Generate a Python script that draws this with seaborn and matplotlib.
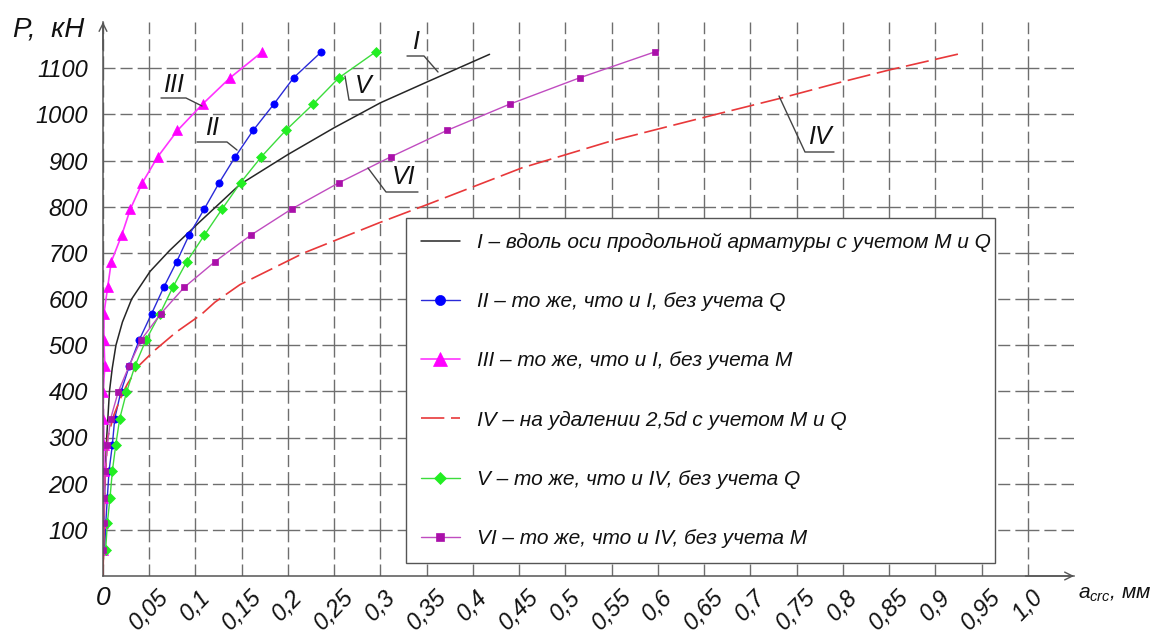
import matplotlib
matplotlib.use("Agg")
import matplotlib.pyplot as plt
import seaborn as sns
import pandas as pd
from matplotlib.lines import Line2D

# ---------------- data ----------------
loads = [57, 114, 170, 227, 284, 341, 398, 454, 511, 568,
         625, 681, 738, 795, 852, 908, 965, 1022, 1079, 1135]

crack_II = [0.0018, 0.003, 0.0047, 0.0065, 0.0101, 0.0127, 0.0192, 0.0283, 0.0391, 0.0525,
            0.0656, 0.0797, 0.093, 0.1095, 0.1257, 0.143, 0.1623, 0.1847, 0.206, 0.236]
crack_III = [0.0, 0.0005, 0.0005, 0.001, 0.001, 0.0005, 0.0, 0.002, 0.001, 0.001,
             0.005, 0.009, 0.0202, 0.0296, 0.0426, 0.0592, 0.0805, 0.1076, 0.1373, 0.172]
crack_V = [0.0029, 0.0047, 0.0076, 0.0101, 0.0138, 0.0181, 0.0254, 0.0344, 0.0464, 0.0616,
           0.0754, 0.0906, 0.1095, 0.1288, 0.1488, 0.1712, 0.1975, 0.2272, 0.255, 0.2947]
crack_VI = [0.0, 0.0007, 0.0015, 0.0025, 0.0047, 0.0083, 0.0163, 0.028, 0.041, 0.0624,
            0.0877, 0.1211, 0.1596, 0.204, 0.2553, 0.3113, 0.3718, 0.4397, 0.5153, 0.5964]

crack_I = [0.0, 0.0008, 0.002, 0.004, 0.007, 0.010, 0.014, 0.021, 0.031, 0.051, 0.072,
           0.1056, 0.148, 0.2, 0.25, 0.3, 0.3525, 0.418]
load_I = [0, 100, 200, 300, 400, 450, 500, 550, 600, 660, 705,
          769, 848, 913, 971, 1025, 1072, 1130]

crack_IV = [0.0, 0.001, 0.002, 0.005, 0.012, 0.021, 0.0264, 0.039, 0.0554, 0.079, 0.106,
            0.121, 0.148, 0.2175, 0.2985, 0.3525, 0.453, 0.549, 0.6, 0.661, 0.733,
            0.7985, 0.85, 0.928]
load_IV = [0, 100, 200, 300, 350, 395, 416, 456, 488, 528, 566,
           593, 631, 700, 765, 806, 884, 942, 968, 999, 1035,
           1070, 1096, 1132]

x_ticks = [0, 0.05, 0.1, 0.15, 0.2, 0.25, 0.3, 0.35, 0.4, 0.45, 0.5,
           0.55, 0.6, 0.65, 0.7, 0.75, 0.8, 0.85, 0.9, 0.95, 1.0]
x_tick_labels = ["0", "0,05", "0,1", "0,15", "0,2", "0,25", "0,3", "0,35", "0,4", "0,45", "0,5",
                 "0,55", "0,6", "0,65", "0,7", "0,75", "0,8", "0,85", "0,9", "0,95", "1,0"]
y_ticks = [100, 200, 300, 400, 500, 600, 700, 800, 900, 1000, 1100]
y_tick_labels = ["100", "200", "300", "400", "500", "600", "700", "800", "900", "1000", "1100"]

legend_labels = [
    "I – вдоль оси продольной арматуры с учетом M и Q",
    "II – то же, что и I, без учета Q",
    "III – то же, что и I, без учета M",
    "IV – на удалении 2,5d с учетом M и Q",
    "V – то же, что и IV, без учета Q",
    "VI – то же, что и IV, без учета M",
]
curve_names = ["I", "II", "III", "IV", "V", "VI"]

# ---------------- style ----------------
sns.set_style("white")
plt.rcParams["font.family"] = ["Liberation Sans", "DejaVu Sans"]
plt.rcParams["font.style"] = "italic"
plt.rcParams["mathtext.fontset"] = "custom"
plt.rcParams["mathtext.it"] = "Liberation Sans:italic"
plt.rcParams["mathtext.rm"] = "Liberation Sans:italic"

W, H = 1157, 637
fig = plt.figure(figsize=(W / 100, H / 100), dpi=100)
ax = fig.add_axes([103 / W, 1 - 576 / H, (1074 - 103) / W, (576 - 22) / H])

styles = {
    "I": dict(color="#262626", lw=1.1, marker=None),
    "II": dict(color="#2a2ad8", lw=1.0, marker="o", markersize=5.2,
               markerfacecolor="#0000ff", markeredgecolor="#0000ff", markeredgewidth=0.5),
    "III": dict(color="#ff33ff", lw=1.2, marker="^", markersize=7.5,
                markerfacecolor="#ff00ff", markeredgecolor="#ff00ff", markeredgewidth=0.5),
    "IV": dict(color="#e8383a", lw=1.2, marker=None, linestyle=(0, (14, 4))),
    "V": dict(color="#3cdc3c", lw=1.0, marker="D", markersize=4.6,
              markerfacecolor="#22ee22", markeredgecolor="#22ee22", markeredgewidth=0.5),
    "VI": dict(color="#c04cc0", lw=1.0, marker="s", markersize=4.6,
               markerfacecolor="#aa10aa", markeredgecolor="#aa10aa", markeredgewidth=0.5),
}
series = {
    "I": (crack_I, load_I),
    "II": (crack_II, loads),
    "III": (crack_III, loads),
    "IV": (crack_IV, load_IV),
    "V": (crack_V, loads),
    "VI": (crack_VI, loads),
}

for name, lab in zip(curve_names, legend_labels):
    xs, ps = series[name]
    df = pd.DataFrame({"a": xs, "P": ps})
    sns.lineplot(data=df, x="a", y="P", ax=ax, sort=False, estimator=None,
                 label=lab, **styles[name])

ax.set_xlim(0, 1.05)
ax.set_ylim(0, 1200)
ax.set_xlabel("")
ax.set_ylabel("")

# grid: long-short dashed, centred on the intersections
ax.set_axisbelow(True)
ax.grid(True, color="#6e6e6e", lw=1.0, linestyle=(8.65, (17.3, 3.6, 8.7, 3.66)))

for s in ["top", "right"]:
    ax.spines[s].set_visible(False)
for s in ["left", "bottom"]:
    ax.spines[s].set_color("#555555")
    ax.spines[s].set_linewidth(1.1)

ax.set_xticks(x_ticks)
ax.set_xticklabels(x_tick_labels)
ax.set_yticks(y_ticks)
ax.set_yticklabels(y_tick_labels)
ax.tick_params(axis="both", direction="out", length=5, width=1.0, color="#555555",
               labelcolor="#111111")
ax.tick_params(axis="y", pad=6, labelsize=17)
ax.tick_params(axis="x", pad=2, labelsize=17)
for t in ax.get_xticklabels():
    if t.get_text() != "0":
        t.set_rotation(46)
    else:
        t.set_fontsize(19)
    t.set_ha("center")
    t.set_va("top")

# axis arrows
ax.annotate("", xy=(0, 1.0), xycoords="axes fraction", xytext=(0, 0.95),
            arrowprops=dict(arrowstyle="->", lw=1.0, color="#555555",
                            mutation_scale=14, shrinkA=0, shrinkB=0))
ax.annotate("", xy=(1.0, 0), xycoords="axes fraction", xytext=(0.95, 0),
            arrowprops=dict(arrowstyle="->", lw=1.0, color="#555555",
                            mutation_scale=14, shrinkA=0, shrinkB=0))

# axis titles
fig.text(49 / W, 1 - 30 / H, "P,  кН", fontsize=20, ha="center", va="center", color="#111111")
fig.text(1078 / W, 1 - 594 / H, r"$a_{crc}$, мм", fontsize=15, ha="left", va="center",
         color="#111111")

# legend
leg = ax.legend(loc="center",
                bbox_to_anchor=(406 / W, 1 - 563 / H, 589 / W, 345 / H),
                bbox_transform=fig.transFigure, mode="expand", borderaxespad=0,
                frameon=True, fancybox=False, shadow=False, framealpha=1,
                edgecolor="#555555", fontsize=15, handlelength=1.85,
                handletextpad=0.85, labelspacing=1.93, borderpad=0.72,
                markerscale=1.4)
leg.get_frame().set_linewidth(1.0)
for t in leg.get_texts():
    t.set_color("#111111")

# curve call-outs (label, text position px, leader polyline px)
callouts = [
    ("III", (174, 97), [(161, 98), (186, 98), (202, 106)]),
    ("II", (212, 140), [(197, 142), (227, 142), (237, 150)]),
    ("V", (363, 98), [(345, 76), (349, 100), (375, 100)]),
    ("I", (416, 54), [(407, 56), (424, 56), (438, 72)]),
    ("VI", (404, 189), [(368, 168), (386, 192), (418, 192)]),
    ("IV", (820, 149), [(779, 96), (805, 152), (834, 152)]),
]
for lab, (tx, ty), pts in callouts:
    fig.text(tx / W, 1 - ty / H, lab, fontsize=18, ha="center", va="bottom", color="#111111")
    fig.add_artist(Line2D([p[0] / W for p in pts], [1 - p[1] / H for p in pts],
                          transform=fig.transFigure, color="#444444", lw=1.0))

fig.savefig("out.png", dpi=100)
